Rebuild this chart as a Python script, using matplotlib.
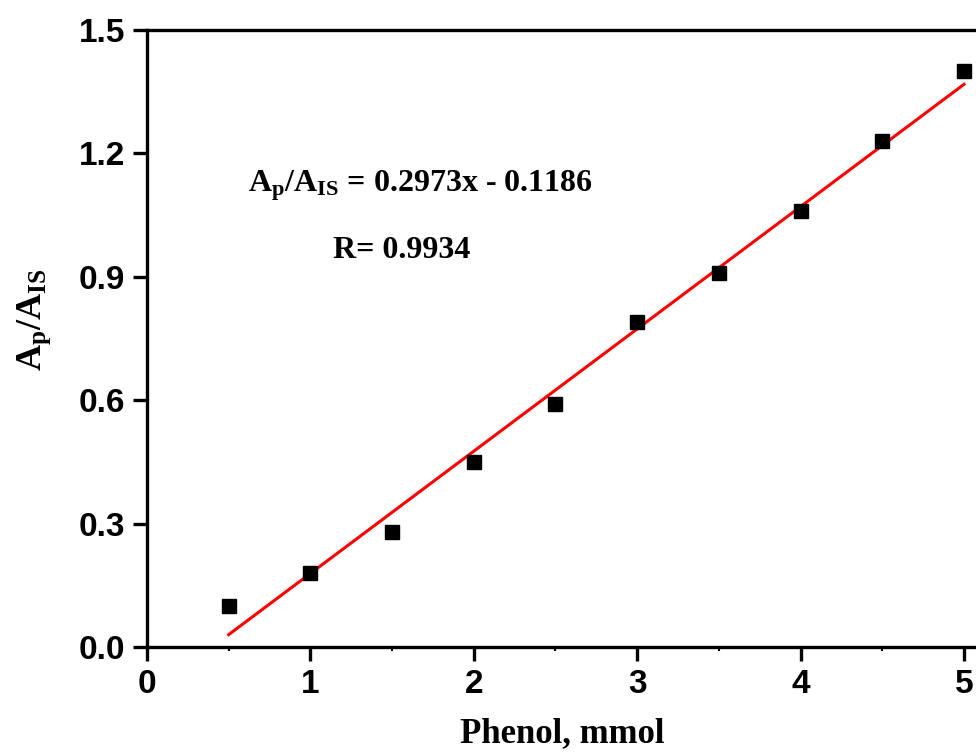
import matplotlib
matplotlib.use('Agg')
import matplotlib.pyplot as plt
from matplotlib.ticker import MultipleLocator

# calibration data
phenol_mmol = [0.5, 1.0, 1.5, 2.0, 2.5, 3.0, 3.5, 4.0, 4.5, 5.0]
area_ratio = [0.10, 0.18, 0.28, 0.45, 0.59, 0.79, 0.91, 1.06, 1.23, 1.40]

# linear fit given on the chart
slope = 0.2973
intercept = -0.1186
r_value = 0.9934

plt.rcParams['mathtext.fontset'] = 'custom'
plt.rcParams['mathtext.rm'] = 'Liberation Serif:bold'
plt.rcParams['mathtext.it'] = 'Liberation Serif:bold'
plt.rcParams['mathtext.bf'] = 'Liberation Serif:bold'
plt.rcParams['mathtext.default'] = 'rm'

fig = plt.figure(figsize=(9.76, 7.53), dpi=100)
ax = fig.add_axes([0.1506, 0.1408, 0.8706, 0.8194])

ax.plot(phenol_mmol, area_ratio, 's', color='black', markersize=10, zorder=3)

fit_x = [phenol_mmol[0], phenol_mmol[-1]]
fit_y = [slope * x + intercept for x in fit_x]
ax.plot(fit_x, fit_y, color='red', linewidth=2.2, zorder=2)

ax.set_xlim(0, 5.2)
ax.set_ylim(0, 1.5)
ax.xaxis.set_major_locator(MultipleLocator(1))
ax.xaxis.set_minor_locator(MultipleLocator(0.5))
ax.set_yticks([0.0, 0.3, 0.6, 0.9, 1.2, 1.5])
ax.set_yticklabels(['0.0', '0.3', '0.6', '0.9', '1.2', '1.5'])

for s in ax.spines.values():
    s.set_linewidth(2.4)
ax.tick_params(which='major', direction='out', length=10, width=2.4, pad=6)
ax.tick_params(which='minor', direction='out', length=3, width=1.5)
for lab in ax.get_xticklabels() + ax.get_yticklabels():
    lab.set_fontfamily('Liberation Sans')
    lab.set_fontweight('bold')
    lab.set_fontsize(24)

ax.set_xlabel('Phenol, mmol', fontfamily='Liberation Serif', fontweight='bold',
              fontsize=25)
ax.xaxis.set_label_coords(0.489, -0.113)
ax.set_ylabel(r'$\mathregular{A_p/A_{IS}}$', fontfamily='Liberation Serif',
              fontweight='bold', fontsize=26)
ax.yaxis.set_label_coords(-0.111, 0.530)

ax.text(0.62, 1.107, r'$\mathregular{A_p/A_{IS}}$ = %.4fx - %.4f' % (slope, -intercept),
        fontfamily='Liberation Serif', fontweight='bold', fontsize=23)
ax.text(1.14, 0.946, 'R= %.4f' % r_value,
        fontfamily='Liberation Serif', fontweight='bold', fontsize=23)

fig.savefig('out.png', dpi=100)
